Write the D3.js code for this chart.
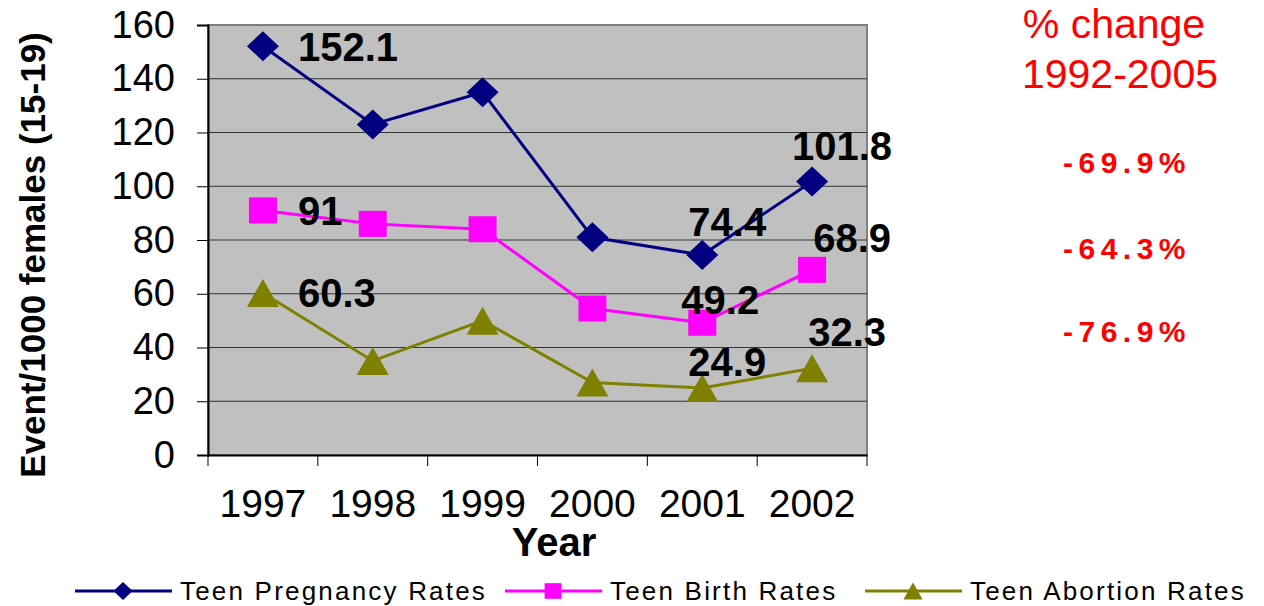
<!DOCTYPE html>
<html>
<head>
<meta charset="utf-8">
<script src="https://d3js.org/d3.v7.min.js"></script>
<style>
  body { margin: 0; background: #fff; }
  svg { font-family: "Liberation Sans", Arial, sans-serif; display: block; }
</style>
</head>
<body>
<svg id="viz" width="1264" height="606"></svg>
<script>
var years = ["1997", "1998", "1999", "2000", "2001", "2002"];
var pregnancy = [152.1, 123, 135, 81, 74.4, 101.8];
var birth = [91, 86, 84, 54.5, 49.2, 68.9];
var abortion = [60.3, 35, 50, 27, 24.9, 32.3];
var yTicks = [0, 20, 40, 60, 80, 100, 120, 140, 160];
var seriesNames = ["Teen Pregnancy Rates", "Teen Birth Rates", "Teen Abortion Rates"];
var changeLabels = ["-69.9%", "-64.3%", "-76.9%"];

var plotLeft = 208, plotRight = 867, plotTop = 25, plotBottom = 455;

var svg = d3.select("#viz");

var x = d3.scaleBand().domain(years).range([plotLeft, plotRight]);
var y = d3.scaleLinear().domain([0, 160]).range([plotBottom, plotTop]);
var cx = function(i) { return x(years[i]) + x.bandwidth() / 2; };

// custom marker shapes (w = width, h = height)
var diamond = function(w, h) {
  return "M0," + (-h / 2) + "L" + (w / 2) + ",0L0," + (h / 2) + "L" + (-w / 2) + ",0Z";
};
var square = function(w, h) {
  return "M" + (-w / 2) + "," + (-h / 2) + "h" + w + "v" + h + "h" + (-w) + "Z";
};
var triangle = function(w, h) {
  return "M0," + (-h / 2) + "L" + (w / 2) + "," + (h / 2) + "L" + (-w / 2) + "," + (h / 2) + "Z";
};

// plot background
svg.append("rect")
    .attr("x", plotLeft).attr("y", plotTop)
    .attr("width", plotRight - plotLeft).attr("height", plotBottom - plotTop)
    .attr("fill", "#c0c0c0")
    .attr("stroke", "#808080").attr("stroke-width", 2);

// gridlines
svg.append("g").selectAll("line")
    .data(yTicks.slice(1, -1))
    .join("line")
    .attr("x1", plotLeft).attr("x2", plotRight)
    .attr("y1", d => y(d)).attr("y2", d => y(d))
    .attr("stroke", "#333").attr("stroke-width", 1.2);

// y axis
var yAxis = svg.append("g")
    .attr("transform", "translate(" + plotLeft + ",0)")
    .call(d3.axisLeft(y).tickValues(yTicks).tickSize(11).tickPadding(22));
yAxis.select(".domain").attr("stroke", "#000").attr("stroke-width", 2);
yAxis.selectAll(".tick line").attr("stroke", "#000");
yAxis.selectAll("text").attr("font-size", 38).attr("fill", "#000");

// x axis: labels at centres, ticks on category boundaries
var xAxis = svg.append("g")
    .attr("transform", "translate(0," + plotBottom + ")")
    .call(d3.axisBottom(x).tickSize(0).tickPadding(34));
xAxis.select(".domain").attr("stroke", "#000").attr("stroke-width", 2);
xAxis.selectAll("text").attr("font-size", 39).attr("fill", "#000");
svg.append("g").selectAll("line")
    .data(d3.range(years.length + 1))
    .join("line")
    .attr("x1", i => plotLeft + i * x.bandwidth())
    .attr("x2", i => plotLeft + i * x.bandwidth())
    .attr("y1", plotBottom).attr("y2", plotBottom + 11)
    .attr("stroke", "#000");

// axis titles
svg.append("text")
    .attr("x", 554).attr("y", 556)
    .attr("text-anchor", "middle")
    .attr("font-size", 40).attr("font-weight", "bold")
    .text("Year");
svg.append("text")
    .attr("transform", "translate(45,255) rotate(-90)")
    .attr("text-anchor", "middle")
    .attr("font-size", 35).attr("font-weight", "bold")
    .text("Event/1000 females (15-19)");

var series = [
  { name: seriesNames[0], values: pregnancy, color: "#000080", shape: diamond, w: 32, h: 30 },
  { name: seriesNames[1], values: birth, color: "#ff00ff", shape: square, w: 28, h: 26 },
  { name: seriesNames[2], values: abortion, color: "#808000", shape: triangle, w: 32, h: 28 }
];

var line = d3.line()
    .x((d, i) => cx(i))
    .y(d => y(d));

series.forEach(function(s) {
  svg.append("path")
      .datum(s.values)
      .attr("d", line)
      .attr("fill", "none")
      .attr("stroke", s.color)
      .attr("stroke-width", 3);
  svg.append("g").selectAll("path")
      .data(s.values)
      .join("path")
      .attr("transform", (d, i) => "translate(" + cx(i) + "," + y(d) + ")")
      .attr("d", s.shape(s.w, s.h))
      .attr("fill", s.color);
});

// data labels: [series index, year index, dx, dy, anchor]
var labelSpots = [
  [0, 0, 35, 0, "start"], [0, 4, 25, -33, "middle"], [0, 5, 30, -36, "middle"],
  [1, 0, 35, 0, "start"], [1, 4, 18, -23, "middle"], [1, 5, 40, -32, "middle"],
  [2, 0, 35, 0, "start"], [2, 4, 25, -26, "middle"], [2, 5, 35, -37, "middle"]
];
svg.append("g").selectAll("text")
    .data(labelSpots)
    .join("text")
    .attr("x", d => cx(d[1]) + d[2])
    .attr("y", d => y(series[d[0]].values[d[1]]) + d[3])
    .attr("dy", "0.36em")
    .attr("text-anchor", d => d[4])
    .attr("font-size", 40).attr("font-weight", "bold")
    .text(d => String(series[d[0]].values[d[1]]));

// % change annotations
svg.append("text")
    .attr("x", 1114).attr("y", 38)
    .attr("text-anchor", "middle")
    .attr("font-size", 41).attr("fill", "#ff0000")
    .text("% change");
svg.append("text")
    .attr("x", 1120).attr("y", 88)
    .attr("text-anchor", "middle")
    .attr("font-size", 41).attr("fill", "#ff0000")
    .text("1992-2005");
svg.append("g").selectAll("text")
    .data(changeLabels)
    .join("text")
    .attr("x", 1127)
    .attr("y", (d, i) => [162, 248, 331][i])
    .attr("dy", "0.36em")
    .attr("text-anchor", "middle")
    .attr("font-size", 30).attr("font-weight", "bold")
    .attr("letter-spacing", 5.5)
    .attr("fill", "#ff0000")
    .text(d => d);

// legend
var legendX = [75, 505, 865];
var legend = svg.append("g").selectAll("g")
    .data(series)
    .join("g")
    .attr("transform", (d, i) => "translate(" + legendX[i] + ",591)");
legend.append("line")
    .attr("x1", 0).attr("x2", 97)
    .attr("stroke", d => d.color).attr("stroke-width", 3);
legend.append("path")
    .attr("transform", "translate(48,0)")
    .attr("d", d => d.shape(d.w * 0.6, d.h * 0.6))
    .attr("fill", d => d.color);
legend.append("text")
    .attr("x", 105).attr("dy", "0.36em")
    .attr("font-size", 26)
    .attr("letter-spacing", 2.2)
    .text(d => d.name);
</script>
</body>
</html>
